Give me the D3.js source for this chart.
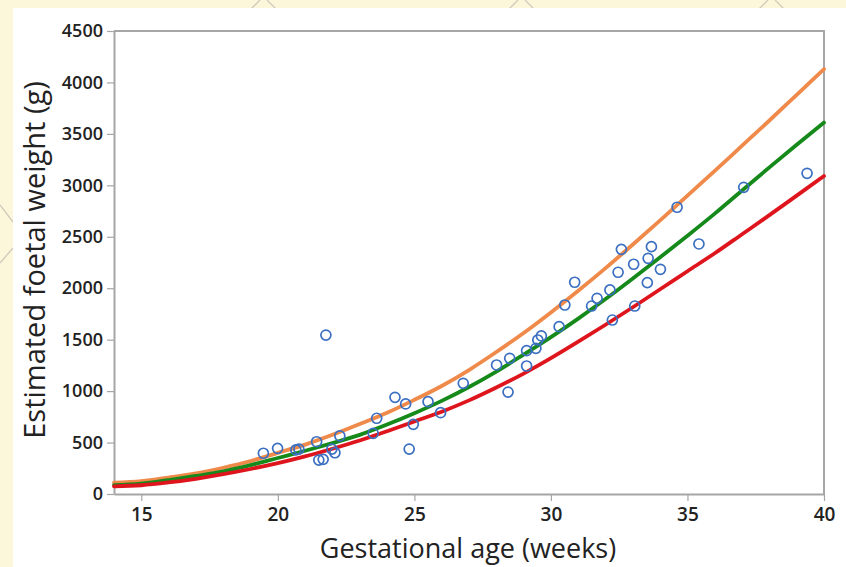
<!DOCTYPE html>
<html><head><meta charset="utf-8">
<script src="https://cdn.jsdelivr.net/npm/d3@7/dist/d3.min.js"></script>
<style>
html,body{margin:0;padding:0;background:#fcf6da;}
svg{display:block;}
text{font-family:"Open Sans","Noto Sans",sans-serif;}
</style></head>
<body>
<svg id="chart" width="846" height="567"></svg>
<script>
// ---- data ----
const weeks = [14,15,16,17,18,19,20,21,22,23,24,25,26,27,28,29,30,31,32,33,34,35,36,37,38,39,40];
const upperCurve = [110,125,160,200,255,320,400,480,575,680,790,915,1050,1205,1380,1565,1765,1975,2195,2425,2660,2900,3140,3385,3630,3880,4130];
const medianCurve = [85,100,135,175,220,280,350,420,495,575,675,785,905,1040,1190,1355,1525,1705,1895,2095,2300,2510,2725,2950,3175,3395,3610];
const lowerCurve = [75,85,112,148,192,243,300,365,440,520,610,705,800,910,1035,1170,1320,1480,1645,1815,1990,2165,2340,2525,2710,2900,3090];
const obsWeeks = [19.47,19.99,20.66,20.77,21.42,21.50,21.66,22.09,22.27,21.98,21.76,23.62,23.49,24.29,24.68,24.81,24.96,25.50,25.96,26.79,28.01,28.43,28.49,29.11,29.11,29.45,29.52,29.65,30.30,30.51,30.87,31.49,31.69,32.16,32.25,32.46,32.58,33.03,33.07,33.53,33.56,33.68,34.01,34.62,35.42,37.06,39.38];
const obsWeights = [396,444,428,437,508,330,337,401,564,437,1545,736,590,940,875,437,677,897,790,1076,1254,991,1319,1244,1393,1416,1497,1536,1626,1837,2058,1827,1902,1983,1691,2155,2378,2233,1827,2054,2291,2404,2184,2787,2430,2981,3117];
const xTicks = [15,20,25,30,35,40];
const yTicks = [0,500,1000,1500,2000,2500,3000,3500,4000,4500];
const xTitle = "Gestational age (weeks)";
const yTitle = "Estimated foetal weight (g)";

// ---- layout ----
const svg = d3.select("#chart");
const L = 114, R = 824, T = 31, B = 494;

// faint watermark marks in the yellow margin
const wm = svg.append("g").attr("stroke","#bdb9ad").attr("stroke-width",1.3).attr("fill","none").attr("opacity",0.7);
[262,520,770].forEach(cx=>{
  wm.append("path").attr("d",`M${cx-12},${10} L${cx-2},${0} M${cx+5},${0} L${cx+15},${10}`);
});
wm.append("path").attr("d","M0,205 L13,222 M13,248 L0,263");

svg.append("rect").attr("x",13).attr("y",8).attr("width",846-13).attr("height",567-8).attr("fill","#ffffff");

const x = d3.scaleLinear().domain([14,40]).range([L,R]);
const y = d3.scaleLinear().domain([0,4500]).range([B,T]);

// frame top/right
svg.append("path").attr("d",`M${L},${T} H${R} V${B}`).attr("fill","none").attr("stroke","#a6a6a6").attr("stroke-width",2);

const xAxis = svg.append("g").attr("transform",`translate(0,${B})`)
  .call(d3.axisBottom(x).tickValues(xTicks).tickFormat(d3.format("d")).tickSize(7).tickPadding(4).tickSizeOuter(0));
const yAxis = svg.append("g").attr("transform",`translate(${L},0)`)
  .call(d3.axisLeft(y).tickValues(yTicks).tickFormat(d3.format("d")).tickSize(7).tickPadding(4).tickSizeOuter(0));
[xAxis,yAxis].forEach(g=>{
  g.select(".domain").attr("stroke","#a6a6a6").attr("stroke-width",2);
  g.selectAll(".tick line").attr("stroke","#a6a6a6").attr("stroke-width",1.2);
  g.selectAll(".tick text").attr("fill","#222").attr("font-size",18).attr("font-weight",600)
    .attr("font-family","'Open Sans','Noto Sans',sans-serif");
});
xAxis.selectAll(".tick text").attr("font-size",19).attr("dy","0.85em");

// curves
const line = d3.line().x((d,i)=>x(weeks[i])).y(d=>y(d)).curve(d3.curveMonotoneX);
const curves = [[upperCurve,"#ef8a4a"],[medianCurve,"#158a1a"],[lowerCurve,"#df151d"]];
curves.forEach(([arr,c])=>{
  svg.append("path").datum(arr).attr("d",line).attr("fill","none").attr("stroke",c).attr("stroke-width",3.8).attr("stroke-linecap","round");
});

// points
svg.append("g").selectAll("circle").data(obsWeeks).join("circle")
  .attr("cx",(d)=>x(d)).attr("cy",(d,i)=>y(obsWeights[i])).attr("r",5)
  .attr("fill","none").attr("stroke","#3b6fc1").attr("stroke-width",1.7);

// titles
svg.append("text").attr("x",468).attr("y",558).attr("text-anchor","middle")
  .attr("font-size",27).attr("font-weight",500).attr("fill","#222").text(xTitle);
svg.append("text").attr("transform",`translate(45,260) rotate(-90)`).attr("text-anchor","middle")
  .attr("font-size",29).attr("font-weight",500).attr("fill","#222").text(yTitle);
</script>
</body></html>
